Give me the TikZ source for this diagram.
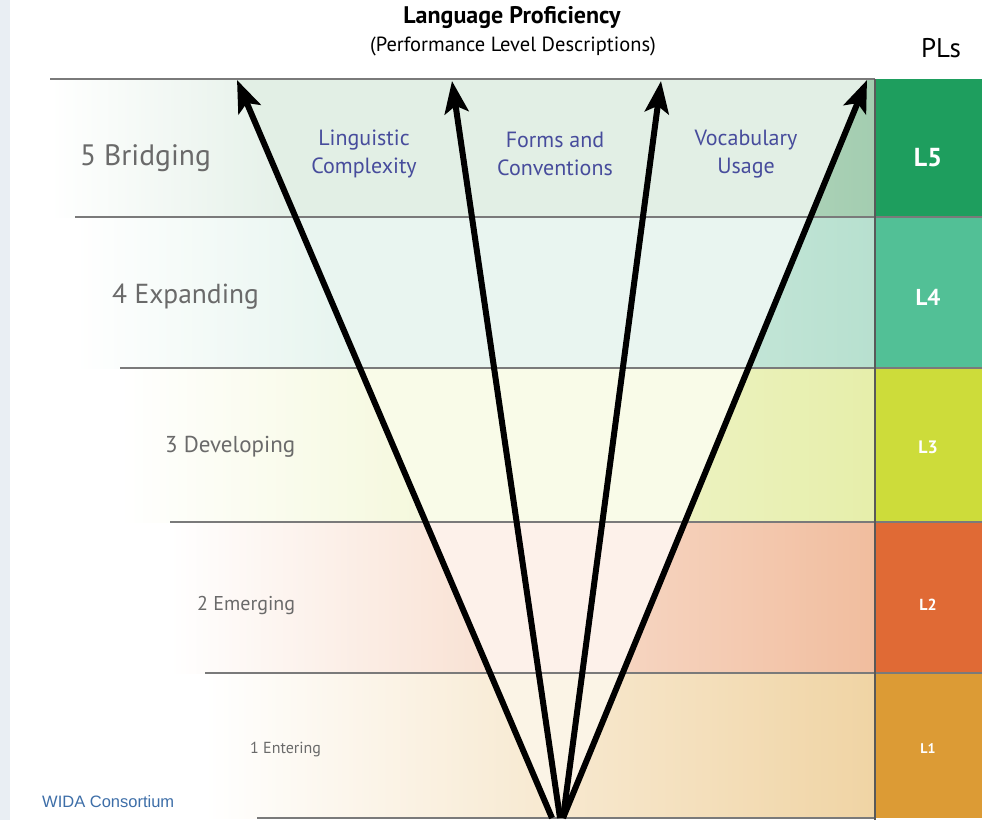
\documentclass[tikz,border=0pt]{standalone}
\usepackage{fontspec}
\setmainfont{PT Sans}
\newfontfamily\widafont{Liberation Sans}
\usetikzlibrary{arrows.meta}
\definecolor{gline}{HTML}{7A7A7A}
\definecolor{glabel}{HTML}{6A6A6A}
\definecolor{blabel}{HTML}{474C9C}
\definecolor{wida}{HTML}{3D6EA8}
\definecolor{cfive}{HTML}{1E9E5E}
\definecolor{cfour}{HTML}{52C096}
\definecolor{cthree}{HTML}{CDDC3A}
\definecolor{ctwo}{HTML}{E06A35}
\definecolor{cone}{HTML}{DC9B35}
\definecolor{sfive}{HTML}{A3CDB0}
\definecolor{sfour}{HTML}{B7E0CF}
\definecolor{sthree}{HTML}{E6EEAA}
\definecolor{stwo}{HTML}{F1BD9E}
\definecolor{sone}{HTML}{F0D4A4}
\definecolor{ffive}{HTML}{E2EFE5}
\definecolor{ffour}{HTML}{E9F5F0}
\definecolor{fthree}{HTML}{F9FBE8}
\definecolor{ftwo}{HTML}{FDF1EA}
\definecolor{fone}{HTML}{FBF4E6}
\definecolor{strip}{HTML}{E9EEF3}
\newcommand{\fsz}[1]{\fontsize{#1}{#1}\selectfont}
\begin{document}
\begin{tikzpicture}[x=1pt,y=-1pt,
  bandline/.style={draw=gline,line width=2.6pt},
  divline/.style={draw=gray!70!black,line width=1.6pt},
  arr/.style={line width=6pt,-{Stealth[length=32pt,width=24pt,inset=7pt]}},
  lvl/.style={text=glabel,anchor=west,inner sep=0pt},
  dom/.style={text=blabel,align=center,inner sep=0pt,font=\fontsize{22}{28}\selectfont},
  pl/.style={text=white,font=\bfseries,inner sep=0pt}]
\useasboundingbox (0,0) rectangle (982,820);
\fill[white] (0,0) rectangle (982,820);
\fill[strip] (0,0) rectangle (10,820);
% band fills
\fill[left color=white,middle color=ffive,right color=sfive] (50,79) rectangle (875,217);
\fill[left color=white,middle color=ffour,right color=sfour] (75,217) rectangle (875,368);
\fill[left color=white,middle color=fthree,right color=sthree] (120,368) rectangle (875,522);
\fill[left color=white,middle color=ftwo!70!stwo,right color=stwo] (170,522) rectangle (875,673);
\fill[left color=white,middle color=fone!70!sone,right color=sone] (205,673) rectangle (875,818);
% lighter fan interior
\begin{scope}
\clip (552,818) -- (237,79) -- (867,79) -- (563,818) -- cycle;
\fill[ffive] (0,79) rectangle (875,217);
\fill[ffour] (0,217) rectangle (875,368);
\fill[fthree] (0,368) rectangle (875,522);
\fill[ftwo] (0,522) rectangle (875,673);
\fill[fone] (0,673) rectangle (875,818);
\end{scope}
% PL column
\fill[cfive] (875,79) rectangle (982,217);
\fill[cfour] (875,217) rectangle (982,368);
\fill[cthree] (875,368) rectangle (982,522);
\fill[ctwo] (875,522) rectangle (982,673);
\fill[cone] (875,673) rectangle (982,818);
% lines
\draw[bandline] (50,79) -- (875,79);
\draw[bandline] (75,217) -- (982,217);
\draw[bandline] (120,368) -- (982,368);
\draw[bandline] (170,522) -- (982,522);
\draw[bandline] (205,673) -- (982,673);
\draw[bandline] (257,818) -- (875,818);
\draw[divline] (875,79) -- (875,820);
% arrows
\coordinate (b1) at (552,818);
\coordinate (b2) at (560,818);
\coordinate (b3) at (563,818);
\coordinate (b4) at (563,818);
\coordinate (t1) at (237,80);
\coordinate (t2) at (452,81);
\coordinate (t3) at (661,81);
\coordinate (t4) at (867,80);
\draw[arr] (b1) -- (t1);
\draw[arr] (b2) -- (t2);
\draw[arr] (b3) -- (t3);
\draw[arr] (b4) -- (t4);
% titles
\node[font=\bfseries\fsz{24},inner sep=0pt] (title) at (512,18) {Language Proficiency};
\node[font=\fsz{20.5},inner sep=0pt] (sub) at (513,46) {(Performance Level Descriptions)};
\node[font=\fsz{27},inner sep=0pt] (pls) at (941,48) {PLs};
% level labels
\node[lvl,font=\fsz{29.5}] (l5) at (80,158) {5 Bridging};
\node[lvl,font=\fsz{27.5}] (l4) at (112,297) {4 Expanding};
\node[lvl,font=\fsz{23}] (l3) at (165,447) {3 Developing};
\node[lvl,font=\fsz{20}] (l2) at (197,605) {2 Emerging};
\node[lvl,font=\fsz{16}] (l1) at (250,749) {1 Entering};
% domains
\node[dom] (d1) at (364,154) {Linguistic\\Complexity};
\node[dom] (d2) at (555,154) {Forms and\\Conventions};
\node[dom] (d3) at (746,154) {Vocabulary\\Usage};
% PL boxes
\node[pl,font=\bfseries\fsz{26}] (p5) at (928,158) {L5};
\node[pl,font=\bfseries\fsz{23}] (p4) at (928,297) {L4};
\node[pl,font=\bfseries\fsz{18}] (p3) at (928,447) {L3};
\node[pl,font=\bfseries\fsz{16}] (p2) at (928,605) {L2};
\node[pl,font=\bfseries\fsz{14}] (p1) at (928,749) {L1};
% credit
\node[text=wida,font=\widafont\fsz{16.5},anchor=west,inner sep=0pt] (wida) at (42,802) {WIDA Consortium};
\end{tikzpicture}
\end{document}
